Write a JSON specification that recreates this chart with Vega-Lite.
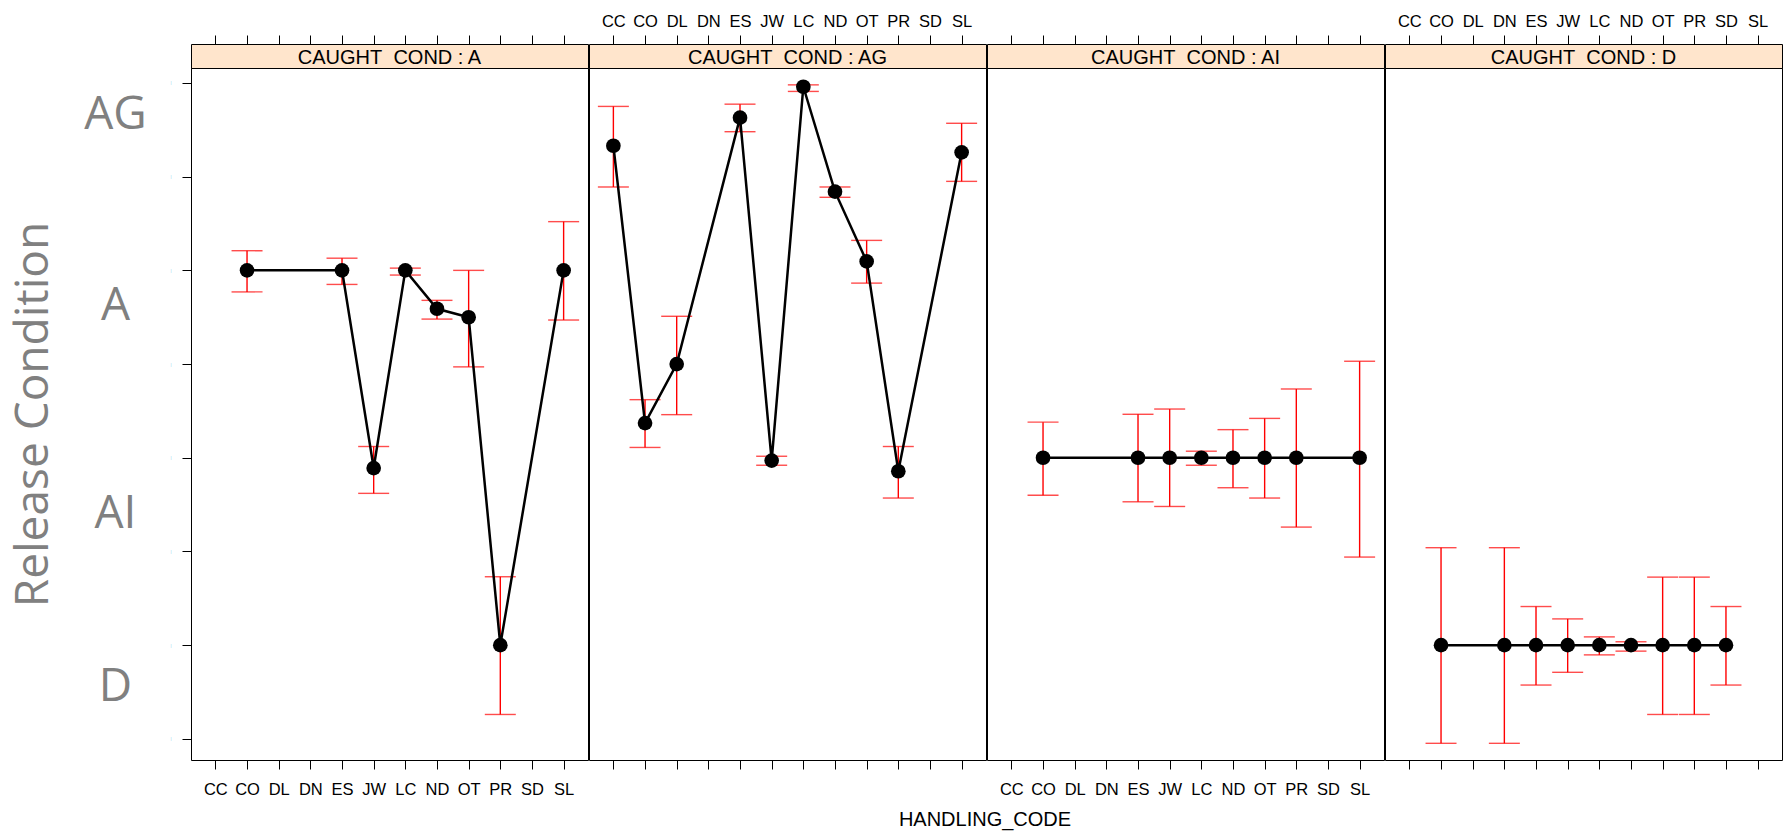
{
  "$schema": "https://vega.github.io/schema/vega-lite/v6.json",
  "background": "white",
  "padding": {"left": 10, "top": 12, "right": 0, "bottom": 5},
  "datasets": {
    "codes": [{"code":"CC"},{"code":"CO"},{"code":"DL"},{"code":"DN"},{"code":"ES"},{"code":"JW"},{"code":"LC"},{"code":"ND"},{"code":"OT"},{"code":"PR"},{"code":"SD"},{"code":"SL"}],
    "rows": [
      {"panel":"A","code":"CO","mean":3.0,"lo":2.885,"hi":3.105},
      {"panel":"A","code":"ES","mean":3.0,"lo":2.925,"hi":3.065},
      {"panel":"A","code":"JW","mean":1.945,"lo":1.81,"hi":2.06},
      {"panel":"A","code":"LC","mean":3.0,"lo":2.975,"hi":3.012},
      {"panel":"A","code":"ND","mean":2.795,"lo":2.74,"hi":2.84},
      {"panel":"A","code":"OT","mean":2.75,"lo":2.485,"hi":3.0},
      {"panel":"A","code":"PR","mean":1.0,"lo":0.63,"hi":1.365},
      {"panel":"A","code":"SL","mean":3.0,"lo":2.735,"hi":3.26},
      {"panel":"AG","code":"CC","mean":3.665,"lo":3.445,"hi":3.875},
      {"panel":"AG","code":"CO","mean":2.185,"lo":2.055,"hi":2.31},
      {"panel":"AG","code":"DL","mean":2.5,"lo":2.23,"hi":2.755},
      {"panel":"AG","code":"ES","mean":3.815,"lo":3.74,"hi":3.887},
      {"panel":"AG","code":"JW","mean":1.985,"lo":1.96,"hi":2.008},
      {"panel":"AG","code":"LC","mean":3.98,"lo":3.955,"hi":3.99},
      {"panel":"AG","code":"ND","mean":3.42,"lo":3.39,"hi":3.445},
      {"panel":"AG","code":"OT","mean":3.048,"lo":2.932,"hi":3.16},
      {"panel":"AG","code":"PR","mean":1.928,"lo":1.785,"hi":2.06},
      {"panel":"AG","code":"SL","mean":3.63,"lo":3.475,"hi":3.785},
      {"panel":"AI","code":"CO","mean":2.0,"lo":1.8,"hi":2.19},
      {"panel":"AI","code":"ES","mean":2.0,"lo":1.765,"hi":2.232},
      {"panel":"AI","code":"JW","mean":2.0,"lo":1.74,"hi":2.26},
      {"panel":"AI","code":"LC","mean":2.0,"lo":1.96,"hi":2.035},
      {"panel":"AI","code":"ND","mean":2.0,"lo":1.84,"hi":2.15},
      {"panel":"AI","code":"OT","mean":2.0,"lo":1.785,"hi":2.21},
      {"panel":"AI","code":"PR","mean":2.0,"lo":1.63,"hi":2.367},
      {"panel":"AI","code":"SL","mean":2.0,"lo":1.47,"hi":2.515},
      {"panel":"D","code":"CO","mean":1.0,"lo":0.476,"hi":1.52},
      {"panel":"D","code":"DN","mean":1.0,"lo":0.476,"hi":1.52},
      {"panel":"D","code":"ES","mean":1.0,"lo":0.787,"hi":1.206},
      {"panel":"D","code":"JW","mean":1.0,"lo":0.855,"hi":1.14},
      {"panel":"D","code":"LC","mean":1.0,"lo":0.948,"hi":1.044},
      {"panel":"D","code":"ND","mean":1.0,"lo":0.968,"hi":1.018},
      {"panel":"D","code":"OT","mean":1.0,"lo":0.63,"hi":1.363},
      {"panel":"D","code":"PR","mean":1.0,"lo":0.63,"hi":1.363},
      {"panel":"D","code":"SD","mean":1.0,"lo":0.787,"hi":1.206}
    ]
  },
  "spacing": 12,
  "vconcat": [
    {
      "bounds": "full",
      "spacing": -3,
      "hconcat": [
        {
          "bounds": "flush", "spacing": 0,
          "vconcat": [
            {
              "width": 397, "height": 24,
              "view": {"fill": "#ffe5cc", "stroke": "black"},
              "layer": [
                {"data": {"name": "codes"}, "mark": {"type": "point", "opacity": 0, "size": 1},
                 "encoding": {"x": {"field": "code", "type": "nominal",
                   "scale": {"type": "point", "domain": ["CC","CO","DL","DN","ES","JW","LC","ND","OT","PR","SD","SL"], "padding": 0.77},
                   "axis": {"orient": "top", "labels": false, "title": null}}}},
                {"data": {"values": [{"label": "CAUGHT\u00a0 COND : A"}]},
                 "mark": {"type": "text", "font": "Liberation Sans", "fontSize": 20, "color": "black", "baseline": "middle", "align": "center", "dy": 2},
                 "encoding": {"text": {"field": "label"}}}
              ]
            },
            {
              "width": 397, "height": 692,
              "data": {"name": "rows"},
              "transform": [{"filter": "datum.panel === 'A'"}],
              "encoding": {"x": {"field": "code", "type": "nominal",
                "scale": {"type": "point", "domain": ["CC","CO","DL","DN","ES","JW","LC","ND","OT","PR","SD","SL"], "padding": 0.77},
                "axis": {"orient": "bottom", "labels": true, "labelPadding": 12, "title": null}}},
              "layer": [
                {"mark": {"type": "rule", "color": "#ff0000", "strokeWidth": 1.4},
                 "encoding": {"y": {"field": "lo", "type": "quantitative", "scale": {"domain": [0.387, 4.08], "nice": false, "zero": false}, "axis": null}, "y2": {"field": "hi"}}},
                {"mark": {"type": "tick", "color": "#ff0000", "size": 31, "thickness": 1.4},
                 "encoding": {"y": {"field": "lo", "type": "quantitative", "scale": {"domain": [0.387, 4.08], "nice": false, "zero": false}, "axis": null}}},
                {"mark": {"type": "tick", "color": "#ff0000", "size": 31, "thickness": 1.4},
                 "encoding": {"y": {"field": "hi", "type": "quantitative", "scale": {"domain": [0.387, 4.08], "nice": false, "zero": false}, "axis": null}}},
                {"mark": {"type": "line", "color": "black", "strokeWidth": 2.5},
                 "encoding": {"y": {"field": "mean", "type": "quantitative", "scale": {"domain": [0.387, 4.08], "nice": false, "zero": false},
                   "axis": {"orient": "left", "values": [0.78, 1.705, 2.81, 3.83], "ticks": false, "tickSize": 0, "domain": false,
                     "labelExpr": "datum.value > 3.5 ? 'AG' : datum.value > 2.5 ? 'A' : datum.value > 1.5 ? 'AI' : 'D'",
                     "labelFont": "Open Sans", "labelFontSize": 46, "labelColor": "#808080", "labelAlign": "center", "labelBaseline": "middle", "labelPadding": 76,
                     "title": "Release Condition", "titleFont": "Open Sans", "titleFontSize": 46, "titleFontWeight": "normal", "titleColor": "#808080", "titlePadding": 26}}}},
                {"mark": {"type": "circle", "color": "black", "size": 215, "opacity": 1},
                 "encoding": {"y": {"field": "mean", "type": "quantitative", "scale": {"domain": [0.387, 4.08], "nice": false, "zero": false},
                   "axis": {"orient": "left", "values": [0.5, 1, 1.5, 2, 2.5, 3, 3.5, 4], "tickSize": 9, "labelExpr": "'|'", "labelFontSize": 4, "labelColor": "#87ceeb", "labelPadding": 11, "title": null}}}}
              ],
              "resolve": {"axis": {"y": "independent"}}
            }
          ]
        },
        {
          "bounds": "flush", "spacing": 0,
          "vconcat": [
            {
              "width": 397, "height": 24,
              "view": {"fill": "#ffe5cc", "stroke": "black"},
              "layer": [
                {"data": {"name": "codes"}, "mark": {"type": "point", "opacity": 0, "size": 1},
                 "encoding": {"x": {"field": "code", "type": "nominal",
                   "scale": {"type": "point", "domain": ["CC","CO","DL","DN","ES","JW","LC","ND","OT","PR","SD","SL"], "padding": 0.77},
                   "axis": {"orient": "top", "labels": true, "labelPadding": 6, "title": null}}}},
                {"data": {"values": [{"label": "CAUGHT\u00a0 COND : AG"}]},
                 "mark": {"type": "text", "font": "Liberation Sans", "fontSize": 20, "color": "black", "baseline": "middle", "align": "center", "dy": 2},
                 "encoding": {"text": {"field": "label"}}}
              ]
            },
            {
              "width": 397, "height": 692,
              "data": {"name": "rows"},
              "transform": [{"filter": "datum.panel === 'AG'"}],
              "encoding": {"x": {"field": "code", "type": "nominal",
                "scale": {"type": "point", "domain": ["CC","CO","DL","DN","ES","JW","LC","ND","OT","PR","SD","SL"], "padding": 0.77},
                "axis": {"orient": "bottom", "labels": false, "title": null}}},
              "layer": [
                {"mark": {"type": "rule", "color": "#ff0000", "strokeWidth": 1.4},
                 "encoding": {"y": {"field": "lo", "type": "quantitative", "scale": {"domain": [0.387, 4.08], "nice": false, "zero": false}, "axis": null}, "y2": {"field": "hi"}}},
                {"mark": {"type": "tick", "color": "#ff0000", "size": 31, "thickness": 1.4},
                 "encoding": {"y": {"field": "lo", "type": "quantitative", "scale": {"domain": [0.387, 4.08], "nice": false, "zero": false}, "axis": null}}},
                {"mark": {"type": "tick", "color": "#ff0000", "size": 31, "thickness": 1.4},
                 "encoding": {"y": {"field": "hi", "type": "quantitative", "scale": {"domain": [0.387, 4.08], "nice": false, "zero": false}, "axis": null}}},
                {"mark": {"type": "line", "color": "black", "strokeWidth": 2.5},
                 "encoding": {"y": {"field": "mean", "type": "quantitative", "scale": {"domain": [0.387, 4.08], "nice": false, "zero": false}, "axis": null}}},
                {"mark": {"type": "circle", "color": "black", "size": 215, "opacity": 1},
                 "encoding": {"y": {"field": "mean", "type": "quantitative", "scale": {"domain": [0.387, 4.08], "nice": false, "zero": false}, "axis": null}}}
              ]
            }
          ]
        },
        {
          "bounds": "flush", "spacing": 0,
          "vconcat": [
            {
              "width": 397, "height": 24,
              "view": {"fill": "#ffe5cc", "stroke": "black"},
              "layer": [
                {"data": {"name": "codes"}, "mark": {"type": "point", "opacity": 0, "size": 1},
                 "encoding": {"x": {"field": "code", "type": "nominal",
                   "scale": {"type": "point", "domain": ["CC","CO","DL","DN","ES","JW","LC","ND","OT","PR","SD","SL"], "padding": 0.77},
                   "axis": {"orient": "top", "labels": false, "title": null}}}},
                {"data": {"values": [{"label": "CAUGHT\u00a0 COND : AI"}]},
                 "mark": {"type": "text", "font": "Liberation Sans", "fontSize": 20, "color": "black", "baseline": "middle", "align": "center", "dy": 2},
                 "encoding": {"text": {"field": "label"}}}
              ]
            },
            {
              "width": 397, "height": 692,
              "data": {"name": "rows"},
              "transform": [{"filter": "datum.panel === 'AI'"}],
              "encoding": {"x": {"field": "code", "type": "nominal",
                "scale": {"type": "point", "domain": ["CC","CO","DL","DN","ES","JW","LC","ND","OT","PR","SD","SL"], "padding": 0.77},
                "axis": {"orient": "bottom", "labels": true, "labelPadding": 12, "title": null}}},
              "layer": [
                {"mark": {"type": "rule", "color": "#ff0000", "strokeWidth": 1.4},
                 "encoding": {"y": {"field": "lo", "type": "quantitative", "scale": {"domain": [0.387, 4.08], "nice": false, "zero": false}, "axis": null}, "y2": {"field": "hi"}}},
                {"mark": {"type": "tick", "color": "#ff0000", "size": 31, "thickness": 1.4},
                 "encoding": {"y": {"field": "lo", "type": "quantitative", "scale": {"domain": [0.387, 4.08], "nice": false, "zero": false}, "axis": null}}},
                {"mark": {"type": "tick", "color": "#ff0000", "size": 31, "thickness": 1.4},
                 "encoding": {"y": {"field": "hi", "type": "quantitative", "scale": {"domain": [0.387, 4.08], "nice": false, "zero": false}, "axis": null}}},
                {"mark": {"type": "line", "color": "black", "strokeWidth": 2.5},
                 "encoding": {"y": {"field": "mean", "type": "quantitative", "scale": {"domain": [0.387, 4.08], "nice": false, "zero": false}, "axis": null}}},
                {"mark": {"type": "circle", "color": "black", "size": 215, "opacity": 1},
                 "encoding": {"y": {"field": "mean", "type": "quantitative", "scale": {"domain": [0.387, 4.08], "nice": false, "zero": false}, "axis": null}}}
              ]
            }
          ]
        },
        {
          "bounds": "flush", "spacing": 0,
          "vconcat": [
            {
              "width": 397, "height": 24,
              "view": {"fill": "#ffe5cc", "stroke": "black"},
              "layer": [
                {"data": {"name": "codes"}, "mark": {"type": "point", "opacity": 0, "size": 1},
                 "encoding": {"x": {"field": "code", "type": "nominal",
                   "scale": {"type": "point", "domain": ["CC","CO","DL","DN","ES","JW","LC","ND","OT","PR","SD","SL"], "padding": 0.77},
                   "axis": {"orient": "top", "labels": true, "labelPadding": 6, "title": null}}}},
                {"data": {"values": [{"label": "CAUGHT\u00a0 COND : D"}]},
                 "mark": {"type": "text", "font": "Liberation Sans", "fontSize": 20, "color": "black", "baseline": "middle", "align": "center", "dy": 2},
                 "encoding": {"text": {"field": "label"}}}
              ]
            },
            {
              "width": 397, "height": 692,
              "data": {"name": "rows"},
              "transform": [{"filter": "datum.panel === 'D'"}],
              "encoding": {"x": {"field": "code", "type": "nominal",
                "scale": {"type": "point", "domain": ["CC","CO","DL","DN","ES","JW","LC","ND","OT","PR","SD","SL"], "padding": 0.77},
                "axis": {"orient": "bottom", "labels": false, "title": null}}},
              "layer": [
                {"mark": {"type": "rule", "color": "#ff0000", "strokeWidth": 1.4},
                 "encoding": {"y": {"field": "lo", "type": "quantitative", "scale": {"domain": [0.387, 4.08], "nice": false, "zero": false}, "axis": null}, "y2": {"field": "hi"}}},
                {"mark": {"type": "tick", "color": "#ff0000", "size": 31, "thickness": 1.4},
                 "encoding": {"y": {"field": "lo", "type": "quantitative", "scale": {"domain": [0.387, 4.08], "nice": false, "zero": false}, "axis": null}}},
                {"mark": {"type": "tick", "color": "#ff0000", "size": 31, "thickness": 1.4},
                 "encoding": {"y": {"field": "hi", "type": "quantitative", "scale": {"domain": [0.387, 4.08], "nice": false, "zero": false}, "axis": null}}},
                {"mark": {"type": "line", "color": "black", "strokeWidth": 2.5},
                 "encoding": {"y": {"field": "mean", "type": "quantitative", "scale": {"domain": [0.387, 4.08], "nice": false, "zero": false}, "axis": null}}},
                {"mark": {"type": "circle", "color": "black", "size": 215, "opacity": 1},
                 "encoding": {"y": {"field": "mean", "type": "quantitative", "scale": {"domain": [0.387, 4.08], "nice": false, "zero": false},
                   "axis": {"orient": "right", "values": [0.5, 1, 1.5, 2, 2.5, 3, 3.5, 4], "tickSize": 8, "labels": false, "title": null}}}}
              ]
            }
          ]
        }
      ]
    },
    {
      "width": 1588, "height": 20,
      "view": {"stroke": null, "fill": null},
      "data": {"values": [{"t": "HANDLING_CODE"}]},
      "mark": {"type": "text", "font": "Liberation Sans", "fontSize": 20, "color": "black", "baseline": "middle", "align": "center"},
      "encoding": {"text": {"field": "t"}}
    }
  ],
  "config": {
    "view": {"stroke": "black", "strokeWidth": 1},
    "axis": {"domain": false, "grid": false, "tickColor": "black", "tickWidth": 1, "tickSize": 9,
      "labelFont": "Liberation Sans", "labelFontSize": 16.5, "labelColor": "black", "labelAngle": 0, "labelOverlap": false,
      "titleFont": "Liberation Sans", "titleFontWeight": "normal", "titleColor": "black"},
    "font": "Liberation Sans"
  }
}
